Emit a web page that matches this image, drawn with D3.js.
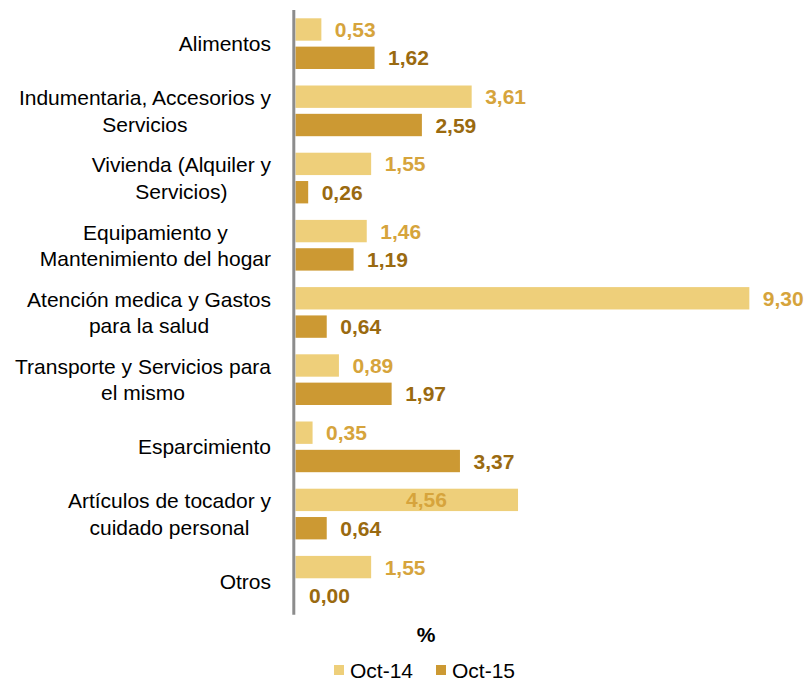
<!DOCTYPE html>
<html>
<head>
<meta charset="utf-8">
<script src="https://cdn.jsdelivr.net/npm/d3@7"></script>
<style>
  html, body { margin: 0; padding: 0; background: #fff; }
  svg { display: block; }
  text { font-family: "Liberation Sans", Arial, sans-serif; }
</style>
</head>
<body>
<svg id="chart" width="804" height="683"></svg>
<script>
const categories = [
  ["Alimentos"],
  ["Indumentaria, Accesorios y", "Servicios"],
  ["Vivienda (Alquiler y", "Servicios)"],
  ["Equipamiento y", "Mantenimiento del hogar"],
  ["Atención medica y Gastos", "para la salud"],
  ["Transporte y Servicios para", "el mismo"],
  ["Esparcimiento"],
  ["Artículos de tocador y", "cuidado personal"],
  ["Otros"]
];
const seriesNames = ["Oct-14", "Oct-15"];
const oct14 = [0.53, 3.61, 1.55, 1.46, 9.30, 0.89, 0.35, 4.56, 1.55];
const oct15 = [1.62, 2.59, 0.26, 1.19, 0.64, 1.97, 3.37, 0.64, 0.00];
const axisTitle = "%";

const barColors = ["#EECF7A", "#CC9933"];
const labelColors = ["#D6A43C", "#9A6A10"];

const svg = d3.select("#chart");
const fmt = v => v.toFixed(2).replace(".", ",");

const x = d3.scaleLinear().domain([0, 10]).range([295.5, 783.5]);
const y = d3.scaleBand().domain(d3.range(categories.length)).range([10, 614.8]).padding(0);
const ySub = d3.scaleBand().domain(seriesNames).range([8.3, 59]).paddingInner(0.21).paddingOuter(0);

const data = [];
categories.forEach((c, i) => {
  data.push({ i, s: seriesNames[0], k: 0, v: oct14[i] });
  data.push({ i, s: seriesNames[1], k: 1, v: oct15[i] });
});

// bars
svg.append("g").selectAll("rect").data(data).join("rect")
  .attr("x", x(0))
  .attr("y", d => y(d.i) + ySub(d.s))
  .attr("width", d => x(d.v) - x(0))
  .attr("height", ySub.bandwidth())
  .attr("fill", d => barColors[d.k]);

// value labels
svg.append("g").selectAll("text").data(data).join("text")
  .attr("x", d => {
    // in the reference this Oct-14 label sits inside its bar
    if (d.k === 0 && d.i === 7) return x(d.v) - 112;
    return x(d.v) + 13.5;
  })
  .attr("y", d => y(d.i) + ySub(d.s) + ySub.bandwidth() / 2)
  .attr("dy", "0.36em")
  .attr("font-size", 21)
  .attr("font-weight", "bold")
  .attr("fill", d => labelColors[d.k])
  .text(d => fmt(d.v));

// axis line
svg.append("line")
  .attr("x1", 293.8).attr("x2", 293.8)
  .attr("y1", y.range()[0]).attr("y2", y.range()[1])
  .attr("stroke", "#8C8C8C").attr("stroke-width", 3);

// category labels
const rightEdge = 271;
const lineH = 26.5;
const catG = svg.append("g");
categories.forEach((lines, i) => {
  const g = catG.append("g");
  const cy = y(i) + y.bandwidth() / 2;
  const texts = lines.map((ln, j) => g.append("text")
    .attr("y", cy + (j - (lines.length - 1) / 2) * lineH)
    .attr("dy", "0.36em")
    .attr("font-size", 21)
    .attr("fill", "#000")
    .attr("text-anchor", "middle")
    .text(ln));
  const maxW = d3.max(texts, t => t.node().getComputedTextLength());
  texts.forEach(t => t.attr("x", rightEdge - maxW / 2));
});

// axis title
svg.append("text")
  .attr("x", 426).attr("y", 634).attr("dy", "0.36em")
  .attr("text-anchor", "middle")
  .attr("font-size", 21).attr("font-weight", "bold")
  .text(axisTitle);

// legend
const legX = [334, 436];
const lg = svg.append("g");
seriesNames.forEach((s, k) => {
  lg.append("rect").attr("x", legX[k]).attr("y", 665).attr("width", 10).attr("height", 10)
    .attr("fill", barColors[k]);
  lg.append("text").attr("x", legX[k] + 16).attr("y", 670).attr("dy", "0.36em")
    .attr("font-size", 21).attr("fill", "#000").text(s);
});
</script>
</body>
</html>
